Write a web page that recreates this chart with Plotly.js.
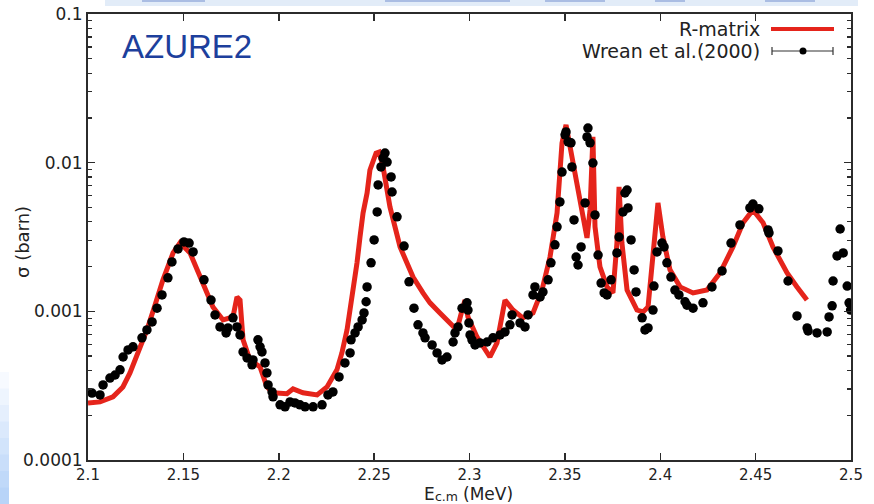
<!DOCTYPE html>
<html>
<head>
<meta charset="utf-8">
<script src="https://cdn.plot.ly/plotly-3.0.1.min.js"></script>
<style>html,body{margin:0;padding:0;background:#fff;}#chart{width:874px;height:504px;}</style>
</head>
<body>
<div id="chart"></div>
<script>
// R-matrix fit (AZURE2)
const fitE = [2.1000,2.1063,2.1131,2.1183,2.1220,2.1262,2.1309,2.1351,2.1393,2.1446,2.1482,2.1535,2.1603,2.1655,2.1708,2.1760,2.1781,2.1797,2.1813,2.1849,2.1902,2.1938,2.1970,2.2043,2.2075,2.2096,2.2127,2.2201,2.2253,2.2305,2.2331,2.2358,2.2384,2.2410,2.2426,2.2442,2.2463,2.2478,2.2510,2.2526,2.2547,2.2583,2.2636,2.2672,2.2704,2.2756,2.2793,2.2845,2.2882,2.2934,2.2961,2.2976,2.2992,2.3039,2.3107,2.3144,2.3186,2.3228,2.3280,2.3333,2.3380,2.3422,2.3459,2.3485,2.3506,2.3527,2.3564,2.3595,2.3616,2.3632,2.3647,2.3658,2.3684,2.3721,2.3752,2.3773,2.3784,2.3799,2.3826,2.3878,2.3910,2.3936,2.3962,2.3988,2.4014,2.4051,2.4104,2.4172,2.4245,2.4313,2.4381,2.4434,2.4486,2.4539,2.4591,2.4665,2.4717,2.4769];
const fitSigma = [0.000242,0.000246,0.000266,0.000310,0.000385,0.000525,0.000750,0.00110,0.00163,0.00247,0.00289,0.00247,0.00155,0.00107,0.000875,0.000917,0.00125,0.00119,0.000643,0.000471,0.000423,0.000310,0.000283,0.000279,0.000301,0.000292,0.000283,0.000274,0.000310,0.000404,0.000525,0.000750,0.00119,0.00211,0.00316,0.00459,0.00625,0.00893,0.0116,0.0118,0.00935,0.00504,0.00271,0.00211,0.00170,0.00133,0.00114,0.000975,0.000875,0.000750,0.00102,0.00119,0.000917,0.000673,0.000493,0.000614,0.00119,0.00102,0.000904,0.000975,0.00139,0.00232,0.00459,0.01355,0.01795,0.01277,0.00730,0.00412,0.00312,0.00481,0.0149,0.00370,0.00199,0.00146,0.00133,0.00289,0.00687,0.00289,0.00139,0.00102,0.000990,0.00107,0.00259,0.00536,0.00316,0.00190,0.00146,0.00133,0.00139,0.00181,0.00271,0.00394,0.00481,0.00394,0.00271,0.00181,0.00146,0.00119];

// Wrean et al. (2000) data
const dataE = [2.1021,2.1063,2.1079,2.1115,2.1142,2.1168,2.1184,2.1210,2.1236,2.1283,2.1309,2.1336,2.1362,2.1388,2.1419,2.1440,2.1472,2.1503,2.1530,2.1551,2.1608,2.1645,2.1666,2.1692,2.1724,2.1734,2.1760,2.1781,2.1797,2.1813,2.1834,2.1860,2.1865,2.1891,2.1902,2.1912,2.1928,2.1938,2.1944,2.1965,2.1970,2.2007,2.2033,2.2059,2.2085,2.2111,2.2138,2.2180,2.2227,2.2258,2.2284,2.2316,2.2347,2.2374,2.2379,2.2400,2.2416,2.2437,2.2447,2.2458,2.2463,2.2484,2.2500,2.2516,2.2521,2.2536,2.2547,2.2557,2.2568,2.2589,2.2594,2.2620,2.2657,2.2683,2.2709,2.2730,2.2756,2.2767,2.2804,2.2830,2.2856,2.2882,2.2914,2.2924,2.2940,2.2961,2.2987,2.2992,2.2997,2.3003,2.3013,2.3029,2.3055,2.3092,2.3123,2.3160,2.3186,2.3212,2.3223,2.3265,2.3291,2.3307,2.3333,2.3343,2.3370,2.3385,2.3412,2.3427,2.3448,2.3459,2.3474,2.3485,2.3501,2.3506,2.3517,2.3532,2.3537,2.3548,2.3559,2.3569,2.3585,2.3606,2.3616,2.3621,2.3632,2.3647,2.3658,2.3674,2.3690,2.3706,2.3721,2.3742,2.3773,2.3784,2.3805,2.3815,2.3826,2.3831,2.3847,2.3863,2.3873,2.3905,2.3920,2.3936,2.3962,2.3967,2.3983,2.4009,2.4020,2.4035,2.4056,2.4077,2.4098,2.4130,2.4140,2.4172,2.4224,2.4271,2.4324,2.4371,2.4418,2.4470,2.4486,2.4517,2.4565,2.4570,2.4617,2.4670,2.4717,2.4770,2.4775,2.4822,2.4875,2.4885,2.4901,2.4906,2.4927,2.4943,2.4959,2.4980,2.4990,2.4998];
const dataSigma = [0.000282,0.000274,0.000320,0.000356,0.000373,0.000404,0.000493,0.000550,0.000577,0.000663,0.000750,0.000849,0.00105,0.00129,0.00168,0.00215,0.00263,0.00293,0.00288,0.00251,0.00163,0.00119,0.000946,0.000785,0.000716,0.000773,0.000904,0.000785,0.000694,0.000533,0.000486,0.000437,0.000471,0.000643,0.000577,0.000533,0.000450,0.000385,0.000320,0.000287,0.000266,0.000235,0.000228,0.000246,0.000242,0.000235,0.000228,0.000228,0.000235,0.000274,0.000287,0.000362,0.000450,0.000525,0.000643,0.000716,0.000785,0.000875,0.000976,0.00116,0.00146,0.00212,0.00302,0.00466,0.00708,0.00936,0.01075,0.0116,0.0101,0.00802,0.00635,0.00432,0.00275,0.00158,0.00105,0.000811,0.000716,0.000663,0.000594,0.000525,0.000471,0.000493,0.000622,0.000716,0.000785,0.00105,0.00114,0.00102,0.000836,0.000694,0.000643,0.000594,0.000613,0.000622,0.000663,0.000694,0.000727,0.000811,0.000946,0.000836,0.000785,0.000946,0.00129,0.00146,0.00125,0.00135,0.00163,0.00212,0.00280,0.00370,0.00544,0.00865,0.0154,0.0161,0.0138,0.0136,0.00936,0.00412,0.00232,0.00205,0.00271,0.00536,0.0149,0.0171,0.0136,0.00995,0.00445,0.00239,0.00155,0.00133,0.00129,0.00163,0.00247,0.00316,0.00466,0.00625,0.00655,0.00496,0.00302,0.00190,0.00135,0.000904,0.000750,0.000773,0.00102,0.00148,0.00251,0.00288,0.00271,0.00212,0.00170,0.00139,0.00129,0.00116,0.00110,0.00105,0.00114,0.00146,0.00187,0.00288,0.00381,0.00496,0.00527,0.00489,0.00353,0.00337,0.00255,0.00160,0.000931,0.000773,0.000738,0.000716,0.000727,0.000917,0.00109,0.00160,0.00236,0.00358,0.00247,0.00148,0.00114,0.00102];

const xTicks = [2.1,2.15,2.2,2.25,2.3,2.35,2.4,2.45,2.5];
const xTickText = ["2.1","2.15","2.2","2.25","2.3","2.35","2.4","2.45","2.5"];
const yTicks = [0.0001,0.001,0.01,0.1];
const yTickText = ["0.0001","0.001","0.01","0.1"];
const yMinor = [];
[0.0001,0.001,0.01].forEach(d => { for (let k = 2; k <= 9; k++) yMinor.push(+(d*k).toPrecision(3)); });

const FONT = "DejaVu Sans, sans-serif";
const INK = "#222";

const traces = [
  {x: fitE, y: fitSigma, type: "scatter", mode: "lines", name: "R-matrix",
   line: {color: "#e5241b", width: 5}, hoverinfo: "x+y"},
  {x: dataE, y: dataSigma, type: "scatter", mode: "markers", name: "Wrean et al.(2000)",
   marker: {color: "#000", size: 9.5, line: {width: 0}}}
];

// plot-area helpers (pixels -> paper)
const L = 88, R = 851, T = 14, B = 460;
const px = v => (v - L) / (R - L);
const py = v => 1 - (v - T) / (B - T);

const shapes = [];
// legend glyphs
shapes.push({type: "line", xref: "paper", yref: "paper", x0: px(771), x1: px(834), y0: py(29), y1: py(29), line: {color: "#e5241b", width: 4}});
shapes.push({type: "line", xref: "paper", yref: "paper", x0: px(772), x1: px(833), y0: py(51), y1: py(51), line: {color: "#333", width: 1.2}});
shapes.push({type: "line", xref: "paper", yref: "paper", x0: px(772), x1: px(772), y0: py(47), y1: py(55), line: {color: "#333", width: 1.2}});
shapes.push({type: "line", xref: "paper", yref: "paper", x0: px(833), x1: px(833), y0: py(47), y1: py(55), line: {color: "#333", width: 1.2}});
shapes.push({type: "circle", xref: "paper", yref: "paper", x0: px(799.5), x1: px(806.5), y0: py(54.5), y1: py(47.5), fillcolor: "#000", line: {width: 0}});
// slide remnants: top band and left gradient
shapes.push({type: "rect", xref: "paper", yref: "paper", x0: px(105), x1: px(858), y0: py(0), y1: py(6), fillcolor: "#e2ecf8", line: {width: 0}, layer: "below"});
[[142,205],[385,510],[545,605],[655,685],[765,815]].forEach(s => shapes.push({type: "rect", xref: "paper", yref: "paper", x0: px(s[0]), x1: px(s[1]), y0: py(0), y1: py(2), fillcolor: "rgba(40,80,180,0.3)", line: {width: 0}}));
const grad = ["#f7faff","#eef5fe","#e5effd","#dbe9fc","#d2e4fb","#c9defa","#c0d9f9","#b8d4f8"];
grad.forEach((c, i) => {
  const y0 = 372 + i * 16.5, y1 = y0 + 16.5;
  shapes.push({type: "rect", xref: "paper", yref: "paper", x0: px(0), x1: px(9), y0: py(y0), y1: py(y1 + 0.5), fillcolor: c, line: {width: 0}});
});

const annotations = [
  {text: "AZURE2", xref: "paper", yref: "paper", x: px(120), y: py(47), xanchor: "left", yanchor: "middle", showarrow: false,
   font: {family: "Liberation Sans, Arial, sans-serif", size: 33, color: "#1d3f9c"}},
  {text: "R-matrix", xref: "paper", yref: "paper", x: px(762), y: py(29), xanchor: "right", yanchor: "middle", showarrow: false,
   font: {family: FONT, size: 19, color: INK}},
  {text: "Wrean et al.(2000)", xref: "paper", yref: "paper", x: px(762), y: py(51), xanchor: "right", yanchor: "middle", showarrow: false,
   font: {family: FONT, size: 19, color: INK}},
  {text: "σ (barn)", xref: "paper", yref: "paper", x: px(22), y: py(242), xanchor: "center", yanchor: "middle", textangle: -90, showarrow: false,
   font: {family: FONT, size: 18, color: INK}},
  // x-axis title: E with subscript c.m, then (MeV)
  {text: "E", xref: "paper", yref: "paper", x: px(422), y: py(494), xanchor: "left", yanchor: "middle", showarrow: false,
   font: {family: FONT, size: 17, color: INK}},
  {text: "c.m", xref: "paper", yref: "paper", x: px(433), y: py(497), xanchor: "left", yanchor: "middle", showarrow: false,
   font: {family: FONT, size: 12.5, color: INK}},
  {text: "(MeV)", xref: "paper", yref: "paper", x: px(461), y: py(494), xanchor: "left", yanchor: "middle", showarrow: false,
   font: {family: FONT, size: 17, color: INK}}
];

const axisCommon = {showgrid: false, zeroline: false, showline: true, linecolor: "#2b2b2b", linewidth: 2,
  mirror: "ticks", ticks: "inside", tickcolor: "#2b2b2b", tickwidth: 1.5, ticklen: 7};

const layout = {
  width: 874, height: 504,
  margin: {l: L, r: 874 - R, t: T, b: 504 - B},
  paper_bgcolor: "#fff", plot_bgcolor: "#fff",
  showlegend: false,
  xaxis: Object.assign({}, axisCommon, {range: [2.1, 2.5], tickmode: "array", tickvals: xTicks, ticktext: xTickText,
    ticklabelstandoff: 0, tickfont: {family: FONT, size: 15, color: INK}}),
  yaxis: Object.assign({}, axisCommon, {type: "log", range: [-4, -1], tickmode: "array", tickvals: yTicks, ticktext: yTickText,
    tickfont: {family: FONT, size: 17, color: INK},
    minor: {tickmode: "array", tickvals: yMinor, ticks: "inside", ticklen: 4, tickcolor: "#2b2b2b", tickwidth: 1.2, showgrid: false}}),
  shapes: shapes,
  annotations: annotations
};

Plotly.newPlot("chart", traces, layout, {displayModeBar: false, staticPlot: true});
</script>
</body>
</html>
